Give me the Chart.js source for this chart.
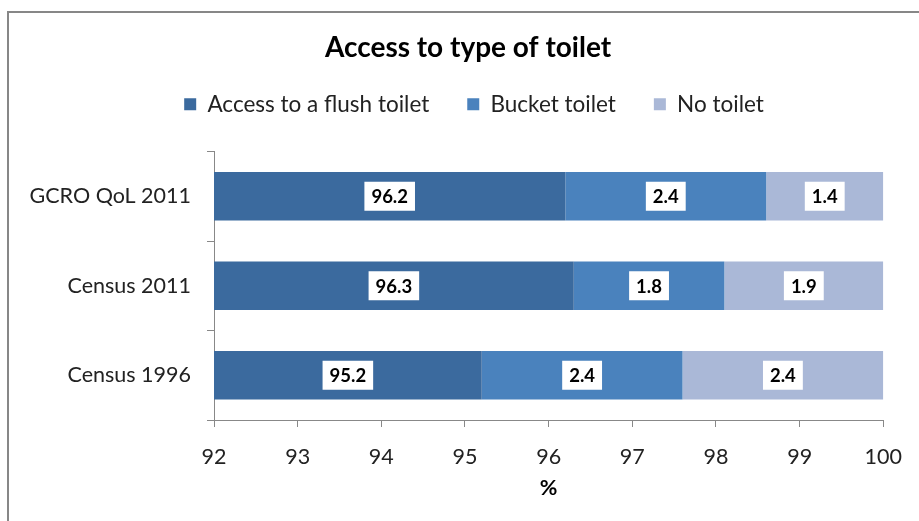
<!DOCTYPE html>
<html>
<head>
<meta charset="utf-8">
<script src="https://cdn.jsdelivr.net/npm/chart.js@4.4.1/dist/chart.umd.min.js"></script>
<style>
  html, body { margin: 0; padding: 0; background: #fff; overflow: hidden; }
  #wrap { position: relative; width: 919px; height: 521px; }
  #frame { position: absolute; left: 7px; top: 11px; width: 1000px; height: 1000px;
           border-top: 2px solid #878787; border-left: 2px solid #878787; }
  canvas { position: absolute; left: 0; top: 0; }
</style>
</head>
<body>
<div id="wrap">
  <div id="frame"></div>
  <canvas id="c" width="919" height="521"></canvas>
</div>
<script>
const categories = ["GCRO QoL 2011", "Census 2011", "Census 1996"];
const flushToilet = [96.2, 96.3, 95.2];
const bucketToilet = [2.4, 1.8, 2.4];
const noToilet = [1.4, 1.9, 2.4];
const seriesNames = ["Access to a flush toilet", "Bucket toilet", "No toilet"];
const xTicks = [92, 93, 94, 95, 96, 97, 98, 99, 100];

const FONT = "Lato, 'Open Sans', sans-serif";

const labelPlugin = {
  id: 'boxLabels',
  afterDatasetsDraw(chart) {
    const ctx = chart.ctx;
    const area = chart.chartArea;
    ctx.save();
    ctx.font = "bold 18.5px " + FONT;
    ctx.textAlign = 'center';
    ctx.textBaseline = 'middle';
    chart.data.datasets.forEach((ds, di) => {
      const meta = chart.getDatasetMeta(di);
      meta.data.forEach((el, i) => {
        const p = el.getProps(['x', 'y', 'base'], true);
        const l = Math.max(Math.min(p.x, p.base), area.left);
        const r = Math.min(Math.max(p.x, p.base), area.right);
        const cx = (l + r) / 2;
        const txt = ds.data[i].toFixed(1);
        const w = ctx.measureText(txt).width + 14;
        const h = 29;
        ctx.fillStyle = '#ffffff';
        ctx.fillRect(cx - w / 2, p.y - h / 2, w, h);
        ctx.fillStyle = '#000000';
        ctx.fillText(txt, cx, p.y + 1);
      });
    });
    ctx.restore();
  }
};

// Center title and legend on the whole frame rather than the padded area,
// and keep the legend close under the title (extra gap goes above the plot).
const centerBlocks = {
  id: 'centerBlocks',
  beforeDraw(chart) {
    const t = chart.titleBlock;
    if (t) { const w = t.right - t.left; t.left = 468 - w / 2; t.right = 468 + w / 2; }
    const lg = chart.legend;
    if (lg) {
      const w = lg.right - lg.left; lg.left = 474 - w / 2; lg.right = 474 + w / 2;
      const h = lg.bottom - lg.top; lg.top = 55; lg.bottom = 55 + h;
    }
  }
};

new Chart(document.getElementById('c'), {
  type: 'bar',
  data: {
    labels: categories,
    datasets: [
      { label: seriesNames[0], data: flushToilet, backgroundColor: '#3B6A9E' },
      { label: seriesNames[1], data: bucketToilet, backgroundColor: '#4A82BD' },
      { label: seriesNames[2], data: noToilet, backgroundColor: '#AAB8D7' }
    ]
  },
  options: {
    indexAxis: 'y',
    responsive: false,
    animation: false,
    devicePixelRatio: 1,
    layout: { padding: { left: 0, right: 35, top: 0, bottom: 20 } },
    datasets: { bar: { categoryPercentage: 1, barPercentage: 0.54, borderWidth: 0 } },
    plugins: {
      title: {
        display: true,
        text: 'Access to type of toilet',
        font: { family: FONT, size: 28, weight: 'bold', lineHeight: '14px' },
        color: '#000',
        padding: { top: 41, bottom: 26 }
      },
      legend: {
        position: 'top',
        labels: {
          font: { family: FONT, size: 22.5 },
          color: '#222',
          boxWidth: 12,
          boxHeight: 12,
          padding: 38
        }
      },
      tooltip: { enabled: false }
    },
    scales: {
      x: {
        stacked: true,
        min: 92,
        max: 100,
        afterBuildTicks(scale) { scale.ticks = xTicks.map(v => ({ value: v })); },
        afterFit(scale) { scale.height = 81; },
        ticks: { font: { family: FONT, size: 21.5 }, color: '#222', padding: 17 },
        grid: { drawOnChartArea: false, drawTicks: true, tickLength: 7, color: '#888' },
        border: { color: '#888' },
        title: { display: true, text: '%', font: { family: FONT, size: 21.5, weight: 'bold' }, color: '#000', padding: { top: 0, bottom: 0 } }
      },
      y: {
        stacked: true,
        afterFit(scale) { scale.width = 214; },
        ticks: { font: { family: FONT, size: 21.5 }, color: '#222', padding: 16 },
        grid: { offset: true, drawOnChartArea: false, drawTicks: true, tickLength: 7, color: '#888' },
        border: { color: '#888' }
      }
    }
  },
  plugins: [labelPlugin, centerBlocks]
});
</script>
</body>
</html>
